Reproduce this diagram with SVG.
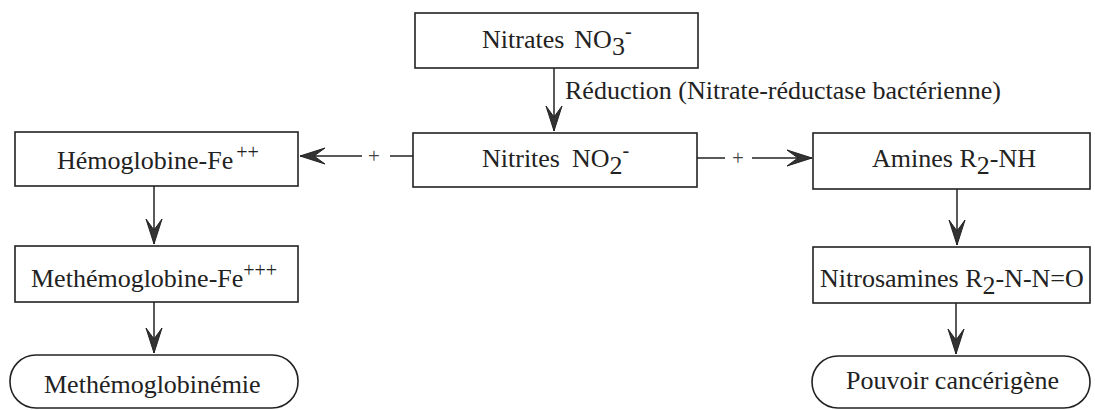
<svg xmlns="http://www.w3.org/2000/svg" width="1095" height="410" viewBox="0 0 1095 410">
<style>
  .box { fill: #fff; stroke: #222; stroke-width: 1.6; }
  .t { font-family: "Liberation Serif", "Times New Roman", serif; font-size: 26px; fill: #222; }
  .sm { font-size: 20px; }
  .plus { font-family: "Liberation Serif", serif; font-size: 21px; fill: #444; text-anchor: middle; }
  .ln { fill: none; stroke: #222; stroke-width: 1.5; }
</style>
<defs>
  <marker id="ah" markerUnits="userSpaceOnUse" markerWidth="26" markerHeight="18" viewBox="0 0 26 18" refX="25" refY="9" orient="auto">
    <path d="M25,9 L0,1 L11,9 L0,17 Z" fill="#333" stroke="#222" stroke-width="1"/>
  </marker>
</defs>

<g id="connectors">
  <path class="ln" d="M554,68 V131" marker-end="url(#ah)"/>
  <path class="ln" d="M413,156 H390"/>
  <text class="plus" x="374" y="163">+</text>
  <path class="ln" d="M362,156 H300" marker-end="url(#ah)"/>
  <path class="ln" d="M697,158 H725"/>
  <text class="plus" x="738" y="165">+</text>
  <path class="ln" d="M752,158 H812" marker-end="url(#ah)"/>
  <path class="ln" d="M154,186 V244" marker-end="url(#ah)"/>
  <path class="ln" d="M154,302 V353" marker-end="url(#ah)"/>
  <path class="ln" d="M957,189 V245" marker-end="url(#ah)"/>
  <path class="ln" d="M956,303 V354" marker-end="url(#ah)"/>
  <text class="t" x="565" y="99">Réduction (Nitrate-réductase bactérienne)</text>
</g>

<g id="nitrates">
  <rect class="box" x="415" y="13" width="283" height="55"/>
  <text class="t" x="482" y="48">Nitrates<tspan dx="10">NO</tspan><tspan dy="7">3</tspan><tspan class="sm" dy="-17">-</tspan></text>
</g>

<g id="nitrites">
  <rect class="box" x="413" y="133" width="284" height="54"/>
  <text class="t" x="482" y="167">Nitrites<tspan dx="12">NO</tspan><tspan dy="7">2</tspan><tspan class="sm" dy="-17">-</tspan></text>
</g>

<g id="hemoglobine">
  <rect class="box" x="15" y="132" width="283" height="54"/>
  <text class="t" x="57" y="169">Hémoglobine-Fe<tspan class="sm" dx="3" dy="-10">++</tspan></text>
</g>

<g id="methemoglobine">
  <rect class="box" x="15" y="246" width="283" height="56"/>
  <text class="t" x="31" y="287">Methémoglobine-Fe<tspan class="sm" dy="-10">+++</tspan></text>
</g>

<g id="methemoglobinemie">
  <rect class="box" x="10" y="355" width="288" height="53" rx="26" ry="26"/>
  <text class="t" x="44" y="393">Methémoglobinémie</text>
</g>

<g id="amines">
  <rect class="box" x="813" y="133" width="277" height="56"/>
  <text class="t" x="872" y="167">Amines R<tspan dy="7">2</tspan><tspan dy="-7">-NH</tspan></text>
</g>

<g id="nitrosamines">
  <rect class="box" x="813" y="247" width="277" height="56"/>
  <text class="t" x="820" y="287">Nitrosamines R<tspan dy="7">2</tspan><tspan dy="-7">-N-N=O</tspan></text>
</g>

<g id="pouvoir">
  <rect class="box" x="812" y="356" width="278" height="52" rx="26" ry="26"/>
  <text class="t" x="846" y="389">Pouvoir cancérigène</text>
</g>
</svg>
